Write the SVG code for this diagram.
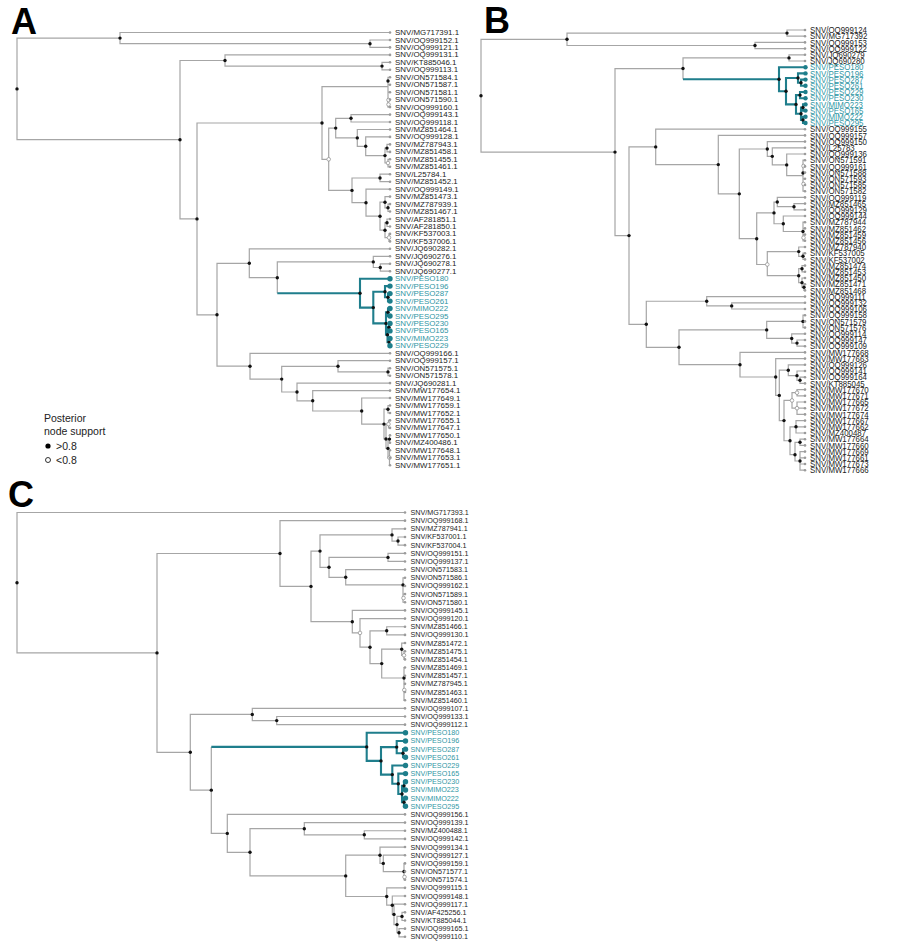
<svg xmlns="http://www.w3.org/2000/svg" xmlns:xlink="http://www.w3.org/1999/xlink" width="900" height="951" viewBox="0 0 900 951">
<style>
.e{fill:none;stroke:#a6a6a6;stroke-width:1.2}
.t{fill:none;stroke:#1f7e8c;stroke-width:2.1}
text{font-family:"Liberation Sans",Arial,sans-serif;dominant-baseline:central;fill:#1c1c1c}
.a{font-size:7.9px}
.c{font-size:7.2px}
.b{font-size:9.5px}
.tl{fill:#2f96a4}
.L{font-size:36px;font-weight:700;fill:#000;dominant-baseline:auto}
.lg{font-size:10.5px;fill:#222}
</style>
<defs>
<circle id="tp" r="1.3" fill="#9b9b9b"/>
<circle id="nd" r="1.7" fill="#111"/>
<circle id="nw" r="1.8" fill="#fff" stroke="#8a8a8a" stroke-width=".7"/>
<circle id="tt" r="2.7" fill="#1d7e8b"/>
<circle id="ts" r="2.2" fill="#1d7e8b"/>
</defs>
<rect width="900" height="951" fill="#fff"/>
<text class="L" x="11" y="33.5">A</text>
<text class="L" x="484" y="33">B</text>
<text class="L" x="8" y="507">C</text>
<g id="legend">
<text class="lg" x="44" y="417.5">Posterior</text>
<text class="lg" x="44" y="431">node support</text>
<circle cx="48" cy="446" r="2.6" fill="#000"/>
<text class="lg" x="56" y="446">&gt;0.8</text>
<circle cx="48" cy="460" r="2.5" fill="#fff" stroke="#000" stroke-width=".8"/>
<text class="lg" x="56" y="460">&lt;0.8</text>
</g>
<g id="connectors">
<path class="e" d="M120 38.1H17V139.7H180M390 32.5H120V43.7H370M390 40H370V47.4H390M225 60.5H180V218.9H197M390 54.9H225V66.1H382M390 62.3H382V69.8H390M322 123H197V314.8H217M388 86.7H322V159.3H328.7M390 77.3H388V107.1H390M388 84.7H390M388 92.2H390M388 99.6H390M335.7 128.1H328.7V190.4H352M351 118.3H335.7V137.9H357.3M390 114.6H351V122H390M390 129.5H357.3V146.3H365.7M390 136.9H365.7V155.6H385M387 148.1H385V163H388M390 144.4H387V151.9H390M390 159.3H388V166.8H390M380 178H352V202.7H366M390 174.2H380V181.7H390M390 189.2H366V216.2H380M385 202.2H380V230.2H385M390 196.6H385V207.8H388M390 204.1H388V211.5H390M387 222.7H385V237.6H389M390 219H387V226.5H390M390 233.9H389V241.4H390M249.3 263.3H217V366.2H250M390 248.8H249.3V277.7H277.3M373.3 261.9H277.3V293.2M390 256.3H373.3V267.5H380.3M390 263.8H380.3V271.2H390M390 353.3H250V379.1H281.7M338 366.3H281.7V392H297M390 360.7H338V371.9H388M390 368.2H388V375.7H390M390 383.1H297V400.8H312.7M390 390.6H312.7V411H361.7M390 398H361.7V424.1H384M388 409.2H384V439H386M390 405.5H388V413H390M388.5 424.1H386V448.4H388M390 420.4H388.5V427.9H390M389.5 439.1H388V457.7H389.5M390 435.3H389.5V442.8H390M390 450.3H389.5V465.2H390M389.5 457.7H390"/>
<path class="t" d="M277.3 293.2H360M390 278.7H360V307.6H373.3M385 291.7H373.3V323.4H386M390 286.1H385V297.3H388M390 293.6H388V301.1H390M388 312.2H386V334.7H387.5M390 308.5H388V316H390M389 327.2H387.5V342.1H389M390 323.4H389V330.9H390M390 338.4H389V345.8H390"/>
<path class="e" d="M567 39.3H481V152.1H615M787 33.1H567V45.5H755M805 30H787V36.2H805M805 42.4H755V48.6H805M683 68.55H615V235.6H629M789 57.9H683V79.2M805 54.8H789V61H805M655.7 146.9H629V324.3H646.3M805 129.2H655.7V164.6H718.3M805 135.4H718.3V193.85H739.3M767.3 149H739.3V238.7H756.7M805 141.6H767.3V156.35H772.3M805 147.8H772.3V164.9H786.7M805 154H786.7V175.7H803M805 160.2H803V191.2H805M803 166.4H805M803 172.6H805M803 178.8H805M803 185H805M774 212.9H756.7V264.5H767.3M777.3 202.05H774V223.75H783.3M805 197.4H777.3V206.7H794M805 203.6H794V209.8H805M805 216H783.3V231.5H803M805 222.2H803V240.8H805M803 228.4H805M803 234.6H805M798.7 251.6H767.3V275.7H798.7M805 247H798.7V256.3H803M805 253.2H803V259.4H805M802 268.7H798.7V282.65H802M805 265.6H802V271.8H805M805 278H802V287.3H804M805 284.2H804V290.4H805M706.7 301.25H646.3V347.3H679M805 296.6H706.7V305.9H731.7M805 302.8H731.7V309H805M766.7 329.9H679V364.7H740M803 321.4H766.7V338.45H791.7M805 315.2H803V327.6H805M803 321.4H805M805 333.8H791.7V343.1H797M805 340H797V346.2H805M805 352.4H740V377H775.7M805 358.6H775.7V395.4H779.3M788.3 370.2H779.3V420.6H784M805 364.8H788.3V375.65H797M805 371H797V380.3H800M805 377.2H800V383.4H805M792 400.45H784V440.75H790M797 392.7H792V408.2H797M805 389.6H797V395.8H805M805 402H797V414.4H805M797 408.2H805M796 426.8H790V454.7H795M805 420.6H796V433H805M796 426.8H805M800 442.3H795V461H800M805 439.2H800V445.4H805M805 451.6H800V470.2H805M800 457.8H805M800 464H805"/>
<path class="t" d="M683 79.2H779M805 67.2H779V91.2H786M798 78.05H786V104.4H796M805 73.4H798V82.7H801M805 79.6H801V85.8H805M800 95.1H796V113.7H801M805 92H800V98.2H805M803 107.5H801V119.9H803M805 104.4H803V110.6H805M805 116.8H803V123H805"/>
<path class="e" d="M405 512.5H17V652.9H157M280 553.5H157V752.3H190.3M405 520.66H280V586.4H311M320 551.1H311V621.7H352.3M392 534.9H320V567.3H329M405 528.82H392V541.06H398M405 536.98H398V545.14H405M388 557.38H329V577.3H345.7M405 553.3H388V561.46H405M405 569.62H345.7V584.9H403M405 577.78H403V602.26H405M403 585.94H405M403 594.1H405M405 610.42H352.3V632.9H360M405 618.58H360V647.2H370M386.7 630.8H370V663.6H381.7M405 626.74H386.7V634.9H405M401.7 649.2H381.7V678H404M405 643.06H401.7V655.3H404M405 651.22H404V659.38H405M405 667.54H404V700.18H405M404 675.7H405M404 683.86H405M404 692.02H405M252.3 714.46H190.3V790.15H211.3M405 708.34H252.3V720.58H276.7M405 716.5H276.7V724.66H405M211.3 746.9V833.4H227.3M405 814.42H227.3V852.3H250M304.3 828.7H250V875.9H345.7M405 822.58H304.3V834.82H364.3M405 830.74H364.3V838.9H405M380 855.2H345.7V896.5H386.7M405 847.06H380V863.4H383.3M405 855.22H383.3V871.54H404M405 863.38H404V879.7H405M404 871.54H405M405 887.86H386.7V905.2H392.3M405 896.02H392.3V914.4H394M405 904.18H394V924.6H397M402 916.42H397V932.74H399M405 912.34H402V920.5H405M405 928.66H399V936.82H405"/>
<path class="t" d="M211.3 746.9H366.7M405 732.82H366.7V760.9H381M396.7 747.1H381V774.6H392.3M405 740.98H396.7V753.22H403M405 749.14H403V757.3H405M405 765.46H392.3V783.8H398.3M405 773.62H398.3V794.03H402M404 785.86H402V802.18H404M405 781.78H404V789.94H405M405 798.1H404V806.26H405"/>
</g>
<g id="support-A">
<use href="#nd" x="17" y="88.9"/><use href="#nd" x="120" y="38.1"/><use href="#nd" x="370" y="43.7"/><use href="#nd" x="180" y="139.7"/><use href="#nd" x="225" y="60.5"/><use href="#nd" x="382" y="66.1"/><use href="#nd" x="197" y="218.9"/><use href="#nd" x="322" y="123"/><use href="#nd" x="388" y="81"/><use href="#nd" x="335.7" y="128.1"/><use href="#nd" x="351" y="118.3"/><use href="#nd" x="357.3" y="137.9"/><use href="#nd" x="365.7" y="146.3"/><use href="#nd" x="385" y="155.6"/><use href="#nd" x="387" y="148.1"/><use href="#nd" x="352" y="190.4"/><use href="#nd" x="380" y="178"/><use href="#nd" x="366" y="202.7"/><use href="#nd" x="380" y="216.2"/><use href="#nd" x="385" y="202.2"/><use href="#nd" x="388" y="207.8"/><use href="#nd" x="385" y="230.2"/><use href="#nd" x="387" y="222.7"/><use href="#nd" x="217" y="314.8"/><use href="#nd" x="249.3" y="263.3"/><use href="#nd" x="277.3" y="277.7"/><use href="#nd" x="373.3" y="261.9"/><use href="#nd" x="380.3" y="267.5"/><use href="#nd" x="250" y="366.2"/><use href="#nd" x="281.7" y="379.1"/><use href="#nd" x="338" y="366.3"/><use href="#nd" x="388" y="371.9"/><use href="#nd" x="297" y="392"/><use href="#nd" x="312.7" y="400.8"/><use href="#nd" x="361.7" y="411"/><use href="#nd" x="384" y="424.1"/><use href="#nd" x="388" y="409.2"/><use href="#nd" x="386" y="439"/><use href="#nd" x="388" y="448.4"/><use href="#nd" x="389.5" y="439.1"/>
<use href="#nd" x="360" y="293.2"/><use href="#nd" x="373.3" y="307.6"/><use href="#nd" x="385" y="291.7"/><use href="#nd" x="388" y="297.3"/><use href="#nd" x="386" y="323.4"/><use href="#nd" x="388" y="312.2"/><use href="#nd" x="387.5" y="334.7"/><use href="#nd" x="389" y="327.2"/><use href="#nd" x="389" y="342.1"/>
<use href="#nw" x="328.7" y="159.3"/><use href="#nw" x="388" y="163"/><use href="#nw" x="389" y="237.6"/><use href="#nw" x="388.5" y="100"/><use href="#nw" x="388.5" y="104.5"/><use href="#nw" x="388.5" y="424.1"/><use href="#nw" x="389.5" y="457.7"/>
</g>
<g id="support-B">
<use href="#nd" x="481" y="95.7"/><use href="#nd" x="567" y="39.3"/><use href="#nd" x="787" y="33.1"/><use href="#nd" x="755" y="45.5"/><use href="#nd" x="615" y="152.1"/><use href="#nd" x="683" y="68.55"/><use href="#nd" x="789" y="57.9"/><use href="#nd" x="629" y="235.6"/><use href="#nd" x="655.7" y="146.9"/><use href="#nd" x="718.3" y="164.6"/><use href="#nd" x="739.3" y="193.85"/><use href="#nd" x="767.3" y="149"/><use href="#nd" x="772.3" y="156.35"/><use href="#nd" x="786.7" y="164.9"/><use href="#nd" x="803" y="173"/><use href="#nd" x="756.7" y="238.7"/><use href="#nd" x="774" y="212.9"/><use href="#nd" x="777.3" y="202.05"/><use href="#nd" x="794" y="206.7"/><use href="#nd" x="783.3" y="223.75"/><use href="#nd" x="803" y="231.5"/><use href="#nd" x="798.7" y="251.6"/><use href="#nd" x="803" y="256.3"/><use href="#nd" x="798.7" y="275.7"/><use href="#nd" x="802" y="268.7"/><use href="#nd" x="802" y="282.65"/><use href="#nd" x="804" y="287.3"/><use href="#nd" x="646.3" y="324.3"/><use href="#nd" x="706.7" y="301.25"/><use href="#nd" x="731.7" y="305.9"/><use href="#nd" x="679" y="347.3"/><use href="#nd" x="766.7" y="329.9"/><use href="#nd" x="803" y="321.4"/><use href="#nd" x="791.7" y="338.45"/><use href="#nd" x="797" y="343.1"/><use href="#nd" x="740" y="364.7"/><use href="#nd" x="775.7" y="377"/><use href="#nd" x="779.3" y="395.4"/><use href="#nd" x="788.3" y="370.2"/><use href="#nd" x="797" y="375.65"/><use href="#nd" x="800" y="380.3"/><use href="#nd" x="784" y="420.6"/><use href="#nd" x="790" y="440.75"/><use href="#nd" x="796" y="426.8"/><use href="#nd" x="795" y="454.7"/><use href="#nd" x="800" y="442.3"/><use href="#nd" x="800" y="461"/>
<use href="#nd" x="779" y="79.2"/><use href="#nd" x="786" y="91.2"/><use href="#nd" x="798" y="78.05"/><use href="#nd" x="801" y="82.7"/><use href="#nd" x="796" y="104.4"/><use href="#nd" x="800" y="95.1"/><use href="#nd" x="801" y="113.7"/><use href="#nd" x="803" y="107.5"/><use href="#nd" x="803" y="119.9"/>
<use href="#nw" x="767.3" y="264.5"/><use href="#nw" x="803.5" y="166"/><use href="#nw" x="803.5" y="184"/><use href="#nw" x="803.5" y="237.7"/><use href="#nw" x="792" y="400.45"/><use href="#nw" x="797" y="392.7"/><use href="#nw" x="797" y="408.2"/>
</g>
<g id="support-C">
<use href="#nd" x="17" y="582.7"/><use href="#nd" x="157" y="652.9"/><use href="#nd" x="280" y="553.5"/><use href="#nd" x="311" y="586.4"/><use href="#nd" x="320" y="551.1"/><use href="#nd" x="392" y="534.9"/><use href="#nd" x="398" y="541.06"/><use href="#nd" x="329" y="567.3"/><use href="#nd" x="388" y="557.38"/><use href="#nd" x="345.7" y="577.3"/><use href="#nd" x="403" y="584.9"/><use href="#nd" x="352.3" y="621.7"/><use href="#nd" x="370" y="647.2"/><use href="#nd" x="386.7" y="630.8"/><use href="#nd" x="381.7" y="663.6"/><use href="#nd" x="401.7" y="649.2"/><use href="#nd" x="404" y="678"/><use href="#nd" x="190.3" y="752.3"/><use href="#nd" x="252.3" y="714.46"/><use href="#nd" x="276.7" y="720.58"/><use href="#nd" x="211.3" y="790.15"/><use href="#nd" x="227.3" y="833.4"/><use href="#nd" x="250" y="852.3"/><use href="#nd" x="304.3" y="828.7"/><use href="#nd" x="364.3" y="834.82"/><use href="#nd" x="345.7" y="875.9"/><use href="#nd" x="380" y="855.2"/><use href="#nd" x="383.3" y="863.4"/><use href="#nd" x="404" y="871.54"/><use href="#nd" x="386.7" y="896.5"/><use href="#nd" x="392.3" y="905.2"/><use href="#nd" x="394" y="914.4"/><use href="#nd" x="397" y="924.6"/><use href="#nd" x="402" y="916.42"/><use href="#nd" x="399" y="932.74"/>
<use href="#nd" x="366.7" y="746.9"/><use href="#nd" x="381" y="760.9"/><use href="#nd" x="396.7" y="747.1"/><use href="#nd" x="403" y="753.22"/><use href="#nd" x="392.3" y="774.6"/><use href="#nd" x="398.3" y="783.8"/><use href="#nd" x="402" y="794.03"/><use href="#nd" x="404" y="785.86"/><use href="#nd" x="404" y="802.18"/>
<use href="#nw" x="360" y="632.9"/><use href="#nw" x="404" y="655.3"/><use href="#nw" x="403.5" y="598"/><use href="#nw" x="404.3" y="690"/><use href="#nw" x="404.5" y="877"/>
</g>
<g id="tips-A" class="a">
<g id="a1"><use href="#tp" x="390" y="32.5"/><text x="395" y="32.5">SNV/MG717391.1</text></g>
<g id="a2"><use href="#tp" x="390" y="40"/><text x="395" y="40">SNV/OQ999152.1</text></g>
<g id="a3"><use href="#tp" x="390" y="47.4"/><text x="395" y="47.4">SNV/OQ999121.1</text></g>
<g id="a4"><use href="#tp" x="390" y="54.9"/><text x="395" y="54.9">SNV/OQ999131.1</text></g>
<g id="a5"><use href="#tp" x="390" y="62.3"/><text x="395" y="62.3">SNV/KT885046.1</text></g>
<g id="a6"><use href="#tp" x="390" y="69.8"/><text x="395" y="69.8">SNV/OQ999113.1</text></g>
<g id="a7"><use href="#tp" x="390" y="77.3"/><text x="395" y="77.3">SNV/ON571584.1</text></g>
<g id="a8"><use href="#tp" x="390" y="84.7"/><text x="395" y="84.7">SNV/ON571587.1</text></g>
<g id="a9"><use href="#tp" x="390" y="92.2"/><text x="395" y="92.2">SNV/ON571581.1</text></g>
<g id="a10"><use href="#tp" x="390" y="99.6"/><text x="395" y="99.6">SNV/ON571590.1</text></g>
<g id="a11"><use href="#tp" x="390" y="107.1"/><text x="395" y="107.1">SNV/OQ999160.1</text></g>
<g id="a12"><use href="#tp" x="390" y="114.6"/><text x="395" y="114.6">SNV/OQ999143.1</text></g>
<g id="a13"><use href="#tp" x="390" y="122"/><text x="395" y="122">SNV/OQ999118.1</text></g>
<g id="a14"><use href="#tp" x="390" y="129.5"/><text x="395" y="129.5">SNV/MZ851464.1</text></g>
<g id="a15"><use href="#tp" x="390" y="136.9"/><text x="395" y="136.9">SNV/OQ999128.1</text></g>
<g id="a16"><use href="#tp" x="390" y="144.4"/><text x="395" y="144.4">SNV/MZ787943.1</text></g>
<g id="a17"><use href="#tp" x="390" y="151.9"/><text x="395" y="151.9">SNV/MZ851458.1</text></g>
<g id="a18"><use href="#tp" x="390" y="159.3"/><text x="395" y="159.3">SNV/MZ851455.1</text></g>
<g id="a19"><use href="#tp" x="390" y="166.8"/><text x="395" y="166.8">SNV/MZ851461.1</text></g>
<g id="a20"><use href="#tp" x="390" y="174.2"/><text x="395" y="174.2">SNV/L25784.1</text></g>
<g id="a21"><use href="#tp" x="390" y="181.7"/><text x="395" y="181.7">SNV/MZ851452.1</text></g>
<g id="a22"><use href="#tp" x="390" y="189.2"/><text x="395" y="189.2">SNV/OQ999149.1</text></g>
<g id="a23"><use href="#tp" x="390" y="196.6"/><text x="395" y="196.6">SNV/MZ851473.1</text></g>
<g id="a24"><use href="#tp" x="390" y="204.1"/><text x="395" y="204.1">SNV/MZ787939.1</text></g>
<g id="a25"><use href="#tp" x="390" y="211.5"/><text x="395" y="211.5">SNV/MZ851467.1</text></g>
<g id="a26"><use href="#tp" x="390" y="219"/><text x="395" y="219">SNV/AF281851.1</text></g>
<g id="a27"><use href="#tp" x="390" y="226.5"/><text x="395" y="226.5">SNV/AF281850.1</text></g>
<g id="a28"><use href="#tp" x="390" y="233.9"/><text x="395" y="233.9">SNV/KF537003.1</text></g>
<g id="a29"><use href="#tp" x="390" y="241.4"/><text x="395" y="241.4">SNV/KF537006.1</text></g>
<g id="a30"><use href="#tp" x="390" y="248.8"/><text x="395" y="248.8">SNV/JQ690282.1</text></g>
<g id="a31"><use href="#tp" x="390" y="256.3"/><text x="395" y="256.3">SNV/JQ690276.1</text></g>
<g id="a32"><use href="#tp" x="390" y="263.8"/><text x="395" y="263.8">SNV/JQ690278.1</text></g>
<g id="a33"><use href="#tp" x="390" y="271.2"/><text x="395" y="271.2">SNV/JQ690277.1</text></g>
<g id="a34"><use href="#tt" x="390" y="278.7"/><text class="tl" x="395" y="278.7">SNV/PESO180</text></g>
<g id="a35"><use href="#tt" x="390" y="286.1"/><text class="tl" x="395" y="286.1">SNV/PESO196</text></g>
<g id="a36"><use href="#tt" x="390" y="293.6"/><text class="tl" x="395" y="293.6">SNV/PESO287</text></g>
<g id="a37"><use href="#tt" x="390" y="301.1"/><text class="tl" x="395" y="301.1">SNV/PESO261</text></g>
<g id="a38"><use href="#tt" x="390" y="308.5"/><text class="tl" x="395" y="308.5">SNV/MIMO222</text></g>
<g id="a39"><use href="#tt" x="390" y="316"/><text class="tl" x="395" y="316">SNV/PESO295</text></g>
<g id="a40"><use href="#tt" x="390" y="323.4"/><text class="tl" x="395" y="323.4">SNV/PESO230</text></g>
<g id="a41"><use href="#tt" x="390" y="330.9"/><text class="tl" x="395" y="330.9">SNV/PESO165</text></g>
<g id="a42"><use href="#tt" x="390" y="338.4"/><text class="tl" x="395" y="338.4">SNV/MIMO223</text></g>
<g id="a43"><use href="#tt" x="390" y="345.8"/><text class="tl" x="395" y="345.8">SNV/PESO229</text></g>
<g id="a44"><use href="#tp" x="390" y="353.3"/><text x="395" y="353.3">SNV/OQ999166.1</text></g>
<g id="a45"><use href="#tp" x="390" y="360.7"/><text x="395" y="360.7">SNV/OQ999157.1</text></g>
<g id="a46"><use href="#tp" x="390" y="368.2"/><text x="395" y="368.2">SNV/ON571575.1</text></g>
<g id="a47"><use href="#tp" x="390" y="375.7"/><text x="395" y="375.7">SNV/ON571578.1</text></g>
<g id="a48"><use href="#tp" x="390" y="383.1"/><text x="395" y="383.1">SNV/JQ690281.1</text></g>
<g id="a49"><use href="#tp" x="390" y="390.6"/><text x="395" y="390.6">SNV/MW177654.1</text></g>
<g id="a50"><use href="#tp" x="390" y="398"/><text x="395" y="398">SNV/MW177649.1</text></g>
<g id="a51"><use href="#tp" x="390" y="405.5"/><text x="395" y="405.5">SNV/MW177659.1</text></g>
<g id="a52"><use href="#tp" x="390" y="413"/><text x="395" y="413">SNV/MW177652.1</text></g>
<g id="a53"><use href="#tp" x="390" y="420.4"/><text x="395" y="420.4">SNV/MW177655.1</text></g>
<g id="a54"><use href="#tp" x="390" y="427.9"/><text x="395" y="427.9">SNV/MW177647.1</text></g>
<g id="a55"><use href="#tp" x="390" y="435.3"/><text x="395" y="435.3">SNV/MW177650.1</text></g>
<g id="a56"><use href="#tp" x="390" y="442.8"/><text x="395" y="442.8">SNV/MZ400486.1</text></g>
<g id="a57"><use href="#tp" x="390" y="450.3"/><text x="395" y="450.3">SNV/MW177648.1</text></g>
<g id="a58"><use href="#tp" x="390" y="457.7"/><text x="395" y="457.7">SNV/MW177653.1</text></g>
<g id="a59"><use href="#tp" x="390" y="465.2"/><text x="395" y="465.2">SNV/MW177651.1</text></g>
</g>
<g id="tips-B" class="b">
<g id="b1"><use href="#tp" x="805" y="30"/><text transform="translate(810 30) scale(.83 1)">SNV/OQ999124</text></g>
<g id="b2"><use href="#tp" x="805" y="36.2"/><text transform="translate(810 36.2) scale(.83 1)">SNV/MG717392</text></g>
<g id="b3"><use href="#tp" x="805" y="42.4"/><text transform="translate(810 42.4) scale(.83 1)">SNV/OQ999153</text></g>
<g id="b4"><use href="#tp" x="805" y="48.6"/><text transform="translate(810 48.6) scale(.83 1)">SNV/OQ999122</text></g>
<g id="b5"><use href="#tp" x="805" y="54.8"/><text transform="translate(810 54.8) scale(.83 1)">SNV/JQ690279</text></g>
<g id="b6"><use href="#tp" x="805" y="61"/><text transform="translate(810 61) scale(.83 1)">SNV/JQ690280</text></g>
<g id="b7"><use href="#ts" x="805.5" y="67.2"/><text class="tl" transform="translate(810 67.2) scale(.83 1)">SNV/PESO180</text></g>
<g id="b8"><use href="#ts" x="805.5" y="73.4"/><text class="tl" transform="translate(810 73.4) scale(.83 1)">SNV/PESO196</text></g>
<g id="b9"><use href="#ts" x="805.5" y="79.6"/><text class="tl" transform="translate(810 79.6) scale(.83 1)">SNV/PESO287</text></g>
<g id="b10"><use href="#ts" x="805.5" y="85.8"/><text class="tl" transform="translate(810 85.8) scale(.83 1)">SNV/PESO261</text></g>
<g id="b11"><use href="#ts" x="805.5" y="92"/><text class="tl" transform="translate(810 92) scale(.83 1)">SNV/PESO229</text></g>
<g id="b12"><use href="#ts" x="805.5" y="98.2"/><text class="tl" transform="translate(810 98.2) scale(.83 1)">SNV/PESO230</text></g>
<g id="b13"><use href="#ts" x="805.5" y="104.4"/><text class="tl" transform="translate(810 104.4) scale(.83 1)">SNV/MIMO223</text></g>
<g id="b14"><use href="#ts" x="805.5" y="110.6"/><text class="tl" transform="translate(810 110.6) scale(.83 1)">SNV/PESO165</text></g>
<g id="b15"><use href="#ts" x="805.5" y="116.8"/><text class="tl" transform="translate(810 116.8) scale(.83 1)">SNV/MIMO222</text></g>
<g id="b16"><use href="#ts" x="805.5" y="123"/><text class="tl" transform="translate(810 123) scale(.83 1)">SNV/PESO295</text></g>
<g id="b17"><use href="#tp" x="805" y="129.2"/><text transform="translate(810 129.2) scale(.83 1)">SNV/OQ999155</text></g>
<g id="b18"><use href="#tp" x="805" y="135.4"/><text transform="translate(810 135.4) scale(.83 1)">SNV/OQ999157</text></g>
<g id="b19"><use href="#tp" x="805" y="141.6"/><text transform="translate(810 141.6) scale(.83 1)">SNV/OQ999150</text></g>
<g id="b20"><use href="#tp" x="805" y="147.8"/><text transform="translate(810 147.8) scale(.83 1)">SNV/L25783</text></g>
<g id="b21"><use href="#tp" x="805" y="154"/><text transform="translate(810 154) scale(.83 1)">SNV/OQ999136</text></g>
<g id="b22"><use href="#tp" x="805" y="160.2"/><text transform="translate(810 160.2) scale(.83 1)">SNV/ON571591</text></g>
<g id="b23"><use href="#tp" x="805" y="166.4"/><text transform="translate(810 166.4) scale(.83 1)">SNV/OQ999161</text></g>
<g id="b24"><use href="#tp" x="805" y="172.6"/><text transform="translate(810 172.6) scale(.83 1)">SNV/ON571588</text></g>
<g id="b25"><use href="#tp" x="805" y="178.8"/><text transform="translate(810 178.8) scale(.83 1)">SNV/ON571593</text></g>
<g id="b26"><use href="#tp" x="805" y="185"/><text transform="translate(810 185) scale(.83 1)">SNV/ON571585</text></g>
<g id="b27"><use href="#tp" x="805" y="191.2"/><text transform="translate(810 191.2) scale(.83 1)">SNV/ON571582</text></g>
<g id="b28"><use href="#tp" x="805" y="197.4"/><text transform="translate(810 197.4) scale(.83 1)">SNV/OQ999119</text></g>
<g id="b29"><use href="#tp" x="805" y="203.6"/><text transform="translate(810 203.6) scale(.83 1)">SNV/MZ851465</text></g>
<g id="b30"><use href="#tp" x="805" y="209.8"/><text transform="translate(810 209.8) scale(.83 1)">SNV/OQ999129</text></g>
<g id="b31"><use href="#tp" x="805" y="216"/><text transform="translate(810 216) scale(.83 1)">SNV/OQ999144</text></g>
<g id="b32"><use href="#tp" x="805" y="222.2"/><text transform="translate(810 222.2) scale(.83 1)">SNV/MZ787944</text></g>
<g id="b33"><use href="#tp" x="805" y="228.4"/><text transform="translate(810 228.4) scale(.83 1)">SNV/MZ851462</text></g>
<g id="b34"><use href="#tp" x="805" y="234.6"/><text transform="translate(810 234.6) scale(.83 1)">SNV/MZ851459</text></g>
<g id="b35"><use href="#tp" x="805" y="240.8"/><text transform="translate(810 240.8) scale(.83 1)">SNV/MZ851456</text></g>
<g id="b36"><use href="#tp" x="805" y="247"/><text transform="translate(810 247) scale(.83 1)">SNV/MZ787940</text></g>
<g id="b37"><use href="#tp" x="805" y="253.2"/><text transform="translate(810 253.2) scale(.83 1)">SNV/KF537005</text></g>
<g id="b38"><use href="#tp" x="805" y="259.4"/><text transform="translate(810 259.4) scale(.83 1)">SNV/KF537002</text></g>
<g id="b39"><use href="#tp" x="805" y="265.6"/><text transform="translate(810 265.6) scale(.83 1)">SNV/MZ851474</text></g>
<g id="b40"><use href="#tp" x="805" y="271.8"/><text transform="translate(810 271.8) scale(.83 1)">SNV/MZ851453</text></g>
<g id="b41"><use href="#tp" x="805" y="278"/><text transform="translate(810 278) scale(.83 1)">SNV/MZ851450</text></g>
<g id="b42"><use href="#tp" x="805" y="284.2"/><text transform="translate(810 284.2) scale(.83 1)">SNV/MZ851471</text></g>
<g id="b43"><use href="#tp" x="805" y="290.4"/><text transform="translate(810 290.4) scale(.83 1)">SNV/MZ851468</text></g>
<g id="b44"><use href="#tp" x="805" y="296.6"/><text transform="translate(810 296.6) scale(.83 1)">SNV/OQ999111</text></g>
<g id="b45"><use href="#tp" x="805" y="302.8"/><text transform="translate(810 302.8) scale(.83 1)">SNV/OQ999132</text></g>
<g id="b46"><use href="#tp" x="805" y="309"/><text transform="translate(810 309) scale(.83 1)">SNV/OQ999106</text></g>
<g id="b47"><use href="#tp" x="805" y="315.2"/><text transform="translate(810 315.2) scale(.83 1)">SNV/OQ999158</text></g>
<g id="b48"><use href="#tp" x="805" y="321.4"/><text transform="translate(810 321.4) scale(.83 1)">SNV/ON571579</text></g>
<g id="b49"><use href="#tp" x="805" y="327.6"/><text transform="translate(810 327.6) scale(.83 1)">SNV/ON571576</text></g>
<g id="b50"><use href="#tp" x="805" y="333.8"/><text transform="translate(810 333.8) scale(.83 1)">SNV/OQ999114</text></g>
<g id="b51"><use href="#tp" x="805" y="340"/><text transform="translate(810 340) scale(.83 1)">SNV/OQ999147</text></g>
<g id="b52"><use href="#tp" x="805" y="346.2"/><text transform="translate(810 346.2) scale(.83 1)">SNV/OQ999109</text></g>
<g id="b53"><use href="#tp" x="805" y="352.4"/><text transform="translate(810 352.4) scale(.83 1)">SNV/MW177668</text></g>
<g id="b54"><use href="#tp" x="805" y="358.6"/><text transform="translate(810 358.6) scale(.83 1)">SNV/MW177663</text></g>
<g id="b55"><use href="#tp" x="805" y="364.8"/><text transform="translate(810 364.8) scale(.83 1)">SNV/OQ999126</text></g>
<g id="b56"><use href="#tp" x="805" y="371"/><text transform="translate(810 371) scale(.83 1)">SNV/OQ999141</text></g>
<g id="b57"><use href="#tp" x="805" y="377.2"/><text transform="translate(810 377.2) scale(.83 1)">SNV/OQ999164</text></g>
<g id="b58"><use href="#tp" x="805" y="383.4"/><text transform="translate(810 383.4) scale(.83 1)">SNV/KT885045</text></g>
<g id="b59"><use href="#tp" x="805" y="389.6"/><text transform="translate(810 389.6) scale(.83 1)">SNV/MW177670</text></g>
<g id="b60"><use href="#tp" x="805" y="395.8"/><text transform="translate(810 395.8) scale(.83 1)">SNV/MW177671</text></g>
<g id="b61"><use href="#tp" x="805" y="402"/><text transform="translate(810 402) scale(.83 1)">SNV/MW177665</text></g>
<g id="b62"><use href="#tp" x="805" y="408.2"/><text transform="translate(810 408.2) scale(.83 1)">SNV/MW177672</text></g>
<g id="b63"><use href="#tp" x="805" y="414.4"/><text transform="translate(810 414.4) scale(.83 1)">SNV/MW177674</text></g>
<g id="b64"><use href="#tp" x="805" y="420.6"/><text transform="translate(810 420.6) scale(.83 1)">SNV/MW177667</text></g>
<g id="b65"><use href="#tp" x="805" y="426.8"/><text transform="translate(810 426.8) scale(.83 1)">SNV/MW177662</text></g>
<g id="b66"><use href="#tp" x="805" y="433"/><text transform="translate(810 433) scale(.83 1)">SNV/MZ400487</text></g>
<g id="b67"><use href="#tp" x="805" y="439.2"/><text transform="translate(810 439.2) scale(.83 1)">SNV/MW177664</text></g>
<g id="b68"><use href="#tp" x="805" y="445.4"/><text transform="translate(810 445.4) scale(.83 1)">SNV/MW177660</text></g>
<g id="b69"><use href="#tp" x="805" y="451.6"/><text transform="translate(810 451.6) scale(.83 1)">SNV/MW177669</text></g>
<g id="b70"><use href="#tp" x="805" y="457.8"/><text transform="translate(810 457.8) scale(.83 1)">SNV/MW177661</text></g>
<g id="b71"><use href="#tp" x="805" y="464"/><text transform="translate(810 464) scale(.83 1)">SNV/MW177673</text></g>
<g id="b72"><use href="#tp" x="805" y="470.2"/><text transform="translate(810 470.2) scale(.83 1)">SNV/MW177666</text></g>
</g>
<g id="tips-C" class="c">
<g id="c1"><use href="#tp" x="405" y="512.5"/><text x="410.5" y="512.5">SNV/MG717393.1</text></g>
<g id="c2"><use href="#tp" x="405" y="520.66"/><text x="410.5" y="520.66">SNV/OQ999168.1</text></g>
<g id="c3"><use href="#tp" x="405" y="528.82"/><text x="410.5" y="528.82">SNV/MZ787941.1</text></g>
<g id="c4"><use href="#tp" x="405" y="536.98"/><text x="410.5" y="536.98">SNV/KF537001.1</text></g>
<g id="c5"><use href="#tp" x="405" y="545.14"/><text x="410.5" y="545.14">SNV/KF537004.1</text></g>
<g id="c6"><use href="#tp" x="405" y="553.3"/><text x="410.5" y="553.3">SNV/OQ999151.1</text></g>
<g id="c7"><use href="#tp" x="405" y="561.46"/><text x="410.5" y="561.46">SNV/OQ999137.1</text></g>
<g id="c8"><use href="#tp" x="405" y="569.62"/><text x="410.5" y="569.62">SNV/ON571583.1</text></g>
<g id="c9"><use href="#tp" x="405" y="577.78"/><text x="410.5" y="577.78">SNV/ON571586.1</text></g>
<g id="c10"><use href="#tp" x="405" y="585.94"/><text x="410.5" y="585.94">SNV/OQ999162.1</text></g>
<g id="c11"><use href="#tp" x="405" y="594.1"/><text x="410.5" y="594.1">SNV/ON571589.1</text></g>
<g id="c12"><use href="#tp" x="405" y="602.26"/><text x="410.5" y="602.26">SNV/ON571580.1</text></g>
<g id="c13"><use href="#tp" x="405" y="610.42"/><text x="410.5" y="610.42">SNV/OQ999145.1</text></g>
<g id="c14"><use href="#tp" x="405" y="618.58"/><text x="410.5" y="618.58">SNV/OQ999120.1</text></g>
<g id="c15"><use href="#tp" x="405" y="626.74"/><text x="410.5" y="626.74">SNV/MZ851466.1</text></g>
<g id="c16"><use href="#tp" x="405" y="634.9"/><text x="410.5" y="634.9">SNV/OQ999130.1</text></g>
<g id="c17"><use href="#tp" x="405" y="643.06"/><text x="410.5" y="643.06">SNV/MZ851472.1</text></g>
<g id="c18"><use href="#tp" x="405" y="651.22"/><text x="410.5" y="651.22">SNV/MZ851475.1</text></g>
<g id="c19"><use href="#tp" x="405" y="659.38"/><text x="410.5" y="659.38">SNV/MZ851454.1</text></g>
<g id="c20"><use href="#tp" x="405" y="667.54"/><text x="410.5" y="667.54">SNV/MZ851469.1</text></g>
<g id="c21"><use href="#tp" x="405" y="675.7"/><text x="410.5" y="675.7">SNV/MZ851457.1</text></g>
<g id="c22"><use href="#tp" x="405" y="683.86"/><text x="410.5" y="683.86">SNV/MZ787945.1</text></g>
<g id="c23"><use href="#tp" x="405" y="692.02"/><text x="410.5" y="692.02">SNV/MZ851463.1</text></g>
<g id="c24"><use href="#tp" x="405" y="700.18"/><text x="410.5" y="700.18">SNV/MZ851460.1</text></g>
<g id="c25"><use href="#tp" x="405" y="708.34"/><text x="410.5" y="708.34">SNV/OQ999107.1</text></g>
<g id="c26"><use href="#tp" x="405" y="716.5"/><text x="410.5" y="716.5">SNV/OQ999133.1</text></g>
<g id="c27"><use href="#tp" x="405" y="724.66"/><text x="410.5" y="724.66">SNV/OQ999112.1</text></g>
<g id="c28"><use href="#tt" x="405.5" y="732.82"/><text class="tl" x="410.5" y="732.82">SNV/PESO180</text></g>
<g id="c29"><use href="#tt" x="405.5" y="740.98"/><text class="tl" x="410.5" y="740.98">SNV/PESO196</text></g>
<g id="c30"><use href="#tt" x="405.5" y="749.14"/><text class="tl" x="410.5" y="749.14">SNV/PESO287</text></g>
<g id="c31"><use href="#tt" x="405.5" y="757.3"/><text class="tl" x="410.5" y="757.3">SNV/PESO261</text></g>
<g id="c32"><use href="#tt" x="405.5" y="765.46"/><text class="tl" x="410.5" y="765.46">SNV/PESO229</text></g>
<g id="c33"><use href="#tt" x="405.5" y="773.62"/><text class="tl" x="410.5" y="773.62">SNV/PESO165</text></g>
<g id="c34"><use href="#tt" x="405.5" y="781.78"/><text class="tl" x="410.5" y="781.78">SNV/PESO230</text></g>
<g id="c35"><use href="#tt" x="405.5" y="789.94"/><text class="tl" x="410.5" y="789.94">SNV/MIMO223</text></g>
<g id="c36"><use href="#tt" x="405.5" y="798.1"/><text class="tl" x="410.5" y="798.1">SNV/MIMO222</text></g>
<g id="c37"><use href="#tt" x="405.5" y="806.26"/><text class="tl" x="410.5" y="806.26">SNV/PESO295</text></g>
<g id="c38"><use href="#tp" x="405" y="814.42"/><text x="410.5" y="814.42">SNV/OQ999156.1</text></g>
<g id="c39"><use href="#tp" x="405" y="822.58"/><text x="410.5" y="822.58">SNV/OQ999139.1</text></g>
<g id="c40"><use href="#tp" x="405" y="830.74"/><text x="410.5" y="830.74">SNV/MZ400488.1</text></g>
<g id="c41"><use href="#tp" x="405" y="838.9"/><text x="410.5" y="838.9">SNV/OQ999142.1</text></g>
<g id="c42"><use href="#tp" x="405" y="847.06"/><text x="410.5" y="847.06">SNV/OQ999134.1</text></g>
<g id="c43"><use href="#tp" x="405" y="855.22"/><text x="410.5" y="855.22">SNV/OQ999127.1</text></g>
<g id="c44"><use href="#tp" x="405" y="863.38"/><text x="410.5" y="863.38">SNV/OQ999159.1</text></g>
<g id="c45"><use href="#tp" x="405" y="871.54"/><text x="410.5" y="871.54">SNV/ON571577.1</text></g>
<g id="c46"><use href="#tp" x="405" y="879.7"/><text x="410.5" y="879.7">SNV/ON571574.1</text></g>
<g id="c47"><use href="#tp" x="405" y="887.86"/><text x="410.5" y="887.86">SNV/OQ999115.1</text></g>
<g id="c48"><use href="#tp" x="405" y="896.02"/><text x="410.5" y="896.02">SNV/OQ999148.1</text></g>
<g id="c49"><use href="#tp" x="405" y="904.18"/><text x="410.5" y="904.18">SNV/OQ999117.1</text></g>
<g id="c50"><use href="#tp" x="405" y="912.34"/><text x="410.5" y="912.34">SNV/AF425256.1</text></g>
<g id="c51"><use href="#tp" x="405" y="920.5"/><text x="410.5" y="920.5">SNV/KT885044.1</text></g>
<g id="c52"><use href="#tp" x="405" y="928.66"/><text x="410.5" y="928.66">SNV/OQ999165.1</text></g>
<g id="c53"><use href="#tp" x="405" y="936.82"/><text x="410.5" y="936.82">SNV/OQ999110.1</text></g>
</g>
</svg>
